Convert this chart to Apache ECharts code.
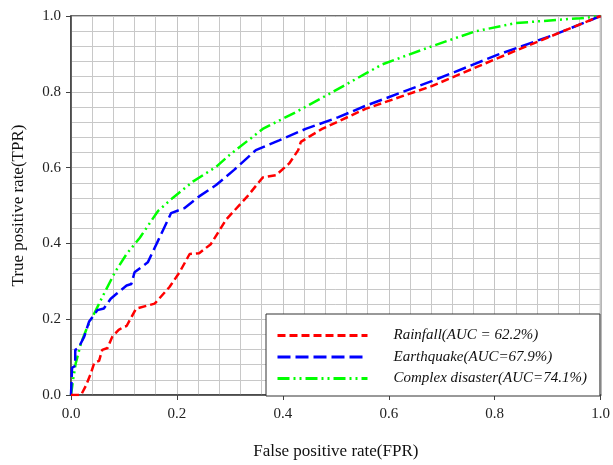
<!DOCTYPE html>
<html>
<head>
<meta charset="utf-8">
<script src="https://cdn.jsdelivr.net/npm/echarts@6/dist/echarts.min.js"></script>
<style>
  html, body { margin: 0; padding: 0; background: #fff; }
  #chart { width: 613px; height: 465px; }
</style>
</head>
<body>
<div id="chart"></div>
<script>
// ROC curves
const rainfallFpr = [0, 0.019, 0.028, 0.037, 0.044, 0.053, 0.059, 0.069, 0.078, 0.090, 0.100, 0.105, 0.123, 0.158, 0.186, 0.205, 0.224, 0.242, 0.264, 0.293, 0.333, 0.362, 0.387, 0.412, 0.429, 0.434, 0.449, 0.474, 0.556, 0.681, 0.806, 0.919, 1];
const rainfallTpr = [0, 0, 0.024, 0.055, 0.085, 0.090, 0.119, 0.124, 0.154, 0.172, 0.180, 0.182, 0.228, 0.241, 0.285, 0.324, 0.372, 0.374, 0.398, 0.463, 0.524, 0.574, 0.580, 0.611, 0.646, 0.668, 0.681, 0.702, 0.755, 0.815, 0.889, 0.954, 1];

const quakeFpr = [0, 0.002, 0.008, 0.008, 0.014, 0.025, 0.034, 0.050, 0.062, 0.075, 0.086, 0.105, 0.114, 0.120, 0.145, 0.164, 0.189, 0.214, 0.242, 0.274, 0.308, 0.349, 0.393, 0.443, 0.505, 0.556, 0.681, 0.806, 0.919, 1];
const quakeTpr = [0, 0.072, 0.077, 0.119, 0.124, 0.154, 0.193, 0.224, 0.228, 0.254, 0.267, 0.289, 0.293, 0.324, 0.350, 0.406, 0.480, 0.493, 0.524, 0.554, 0.594, 0.646, 0.672, 0.702, 0.733, 0.763, 0.828, 0.898, 0.954, 1];

const complexFpr = [0, 0.004, 0.009, 0.019, 0.031, 0.047, 0.059, 0.083, 0.105, 0.130, 0.164, 0.192, 0.230, 0.274, 0.299, 0.362, 0.424, 0.487, 0.587, 0.681, 0.762, 0.838, 0.919, 0.962, 1];
const complexTpr = [0, 0.041, 0.084, 0.137, 0.180, 0.224, 0.258, 0.324, 0.372, 0.415, 0.485, 0.520, 0.563, 0.602, 0.633, 0.702, 0.746, 0.794, 0.872, 0.920, 0.959, 0.981, 0.990, 0.994, 1];

const seriesNames = ['Rainfall(AUC = 62.2%)', 'Earthquake(AUC=67.9%)', 'Complex disaster(AUC=74.1%)'];

const pairs = (xs, ys) => xs.map((x, i) => [x, ys[i]]);

const chart = echarts.init(document.getElementById('chart'));

const fontFamily = '"Liberation Serif", "Times New Roman", serif';
const axisCommon = {
  type: 'value',
  min: 0,
  max: 1,
  interval: 0.2,
  axisLine: { show: true, lineStyle: { color: '#404040', width: 1.5 } },
  axisTick: { show: true, inside: false, length: 5, lineStyle: { color: '#404040', width: 1 } },
  axisLabel: {
    color: '#222',
    fontFamily: fontFamily,
    fontSize: 15,
    formatter: v => v.toFixed(1)
  },
  splitLine: { show: true, lineStyle: { color: '#c4c4c4', width: 1 } },
  minorTick: { show: false, splitNumber: 5 },
  minorSplitLine: { show: true, lineStyle: { color: '#c8c8c8', width: 1 } },
  nameLocation: 'middle',
  nameTextStyle: { color: '#111', fontFamily: fontFamily, fontSize: 17 }
};

const option = {
  backgroundColor: '#ffffff',
  animation: false,
  grid: {
    left: 71,
    right: 10,
    top: 16,
    bottom: 66,
    show: true,
    borderColor: '#404040',
    borderWidth: 1.5,
    backgroundColor: 'transparent'
  },
  xAxis: Object.assign({}, axisCommon, {
    name: 'False positive rate(FPR)',
    nameGap: 48,
    axisLabel: Object.assign({}, axisCommon.axisLabel, { margin: 12 })
  }),
  yAxis: Object.assign({}, axisCommon, {
    name: 'True positive rate(TPR)',
    nameGap: 44,
    axisLabel: Object.assign({}, axisCommon.axisLabel, { margin: 10 })
  }),
  legend: {
    orient: 'vertical',
    left: 266,
    top: 314,
    align: 'left',
    itemWidth: 90,
    itemHeight: 14,
    itemGap: 6.5,
    padding: [14, 13, 10, 10],
    borderColor: '#333',
    borderWidth: 1,
    backgroundColor: '#fff',
    data: seriesNames,
    itemStyle: { opacity: 0 },
    lineStyle: { width: 3 },
    textStyle: {
      fontFamily: fontFamily,
      fontStyle: 'italic',
      fontSize: 15,
      color: '#111',
      padding: [0, 0, 0, 21]
    }
  },
  series: [
    {
      name: seriesNames[0],
      type: 'line',
      data: pairs(rainfallFpr, rainfallTpr),
      showSymbol: false,
      symbol: 'none',
      lineStyle: { color: '#ff0000', width: 2.5, type: [8, 4] },
      itemStyle: { color: '#ff0000' },
      z: 3
    },
    {
      name: seriesNames[1],
      type: 'line',
      data: pairs(quakeFpr, quakeTpr),
      showSymbol: false,
      symbol: 'none',
      lineStyle: { color: '#0000ff', width: 2.5, type: [13, 5] },
      itemStyle: { color: '#0000ff' },
      z: 2
    },
    {
      name: seriesNames[2],
      type: 'line',
      data: pairs(complexFpr, complexTpr),
      showSymbol: false,
      symbol: 'none',
      lineStyle: { color: '#00ff00', width: 2.5, type: [12, 4, 2, 4, 2, 4] },
      itemStyle: { color: '#00ff00' },
      z: 1
    }
  ]
};

chart.setOption(option);
</script>
</body>
</html>
